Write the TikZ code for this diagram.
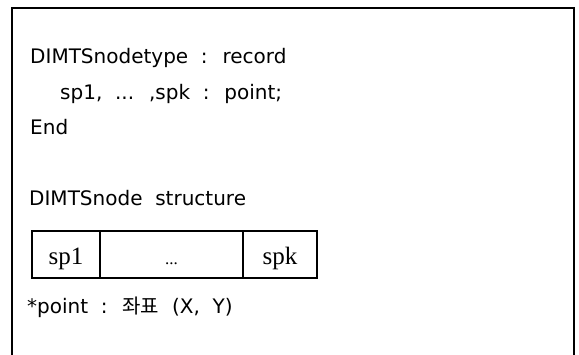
\documentclass[tikz,border=0pt]{standalone}
\usepackage{fontspec}
\setmainfont{DejaVu Sans}
\newfontfamily\krfont{Noto Sans CJK KR}
\newfontfamily\cellfont{Liberation Serif}
\usetikzlibrary{positioning}
\tikzset{
  txt/.style={anchor=base west,inner sep=0pt,font=\fontsize{20}{22}\selectfont},
  cell/.style={draw,line width=1.2pt,outer sep=0pt,minimum height=47pt,
    text height=24pt,text depth=3pt,
    font=\cellfont\fontsize{25}{28}\selectfont}
}

\begin{document}
\begin{tikzpicture}[x=1pt,y=-1pt]
  \useasboundingbox (0,0) rectangle (579,355);

  % frame, open at the bottom
  \draw[line width=1.5pt] (12,355) -- (12,8) -- (574,8) -- (574,355);

  % type declaration
  \node[txt] (decl) at (30,64) {DIMTSnodetype \ : \ record};
  \node[txt] (fields) at (60,100) {sp1, \ ... \ ,spk \ : \ point;};
  \node[txt] (end) at (30,135) {End};

  % record layout
  \node[txt] (title) at (29,206) {DIMTSnode \ structure};
  \node[cell,minimum width=68pt] (sp1) at (66,254.5) {sp1};
  \node[cell,minimum width=143pt,right=0pt of sp1,
    font=\cellfont\fontsize{17}{20}\selectfont] (dots) {...};
  \node[cell,minimum width=74pt,right=0pt of dots] (spk) {spk};

  \node[txt] (note) at (27,314) {*point \ : \ {\krfont 좌표} \ (X, \ Y)};
\end{tikzpicture}
\end{document}
